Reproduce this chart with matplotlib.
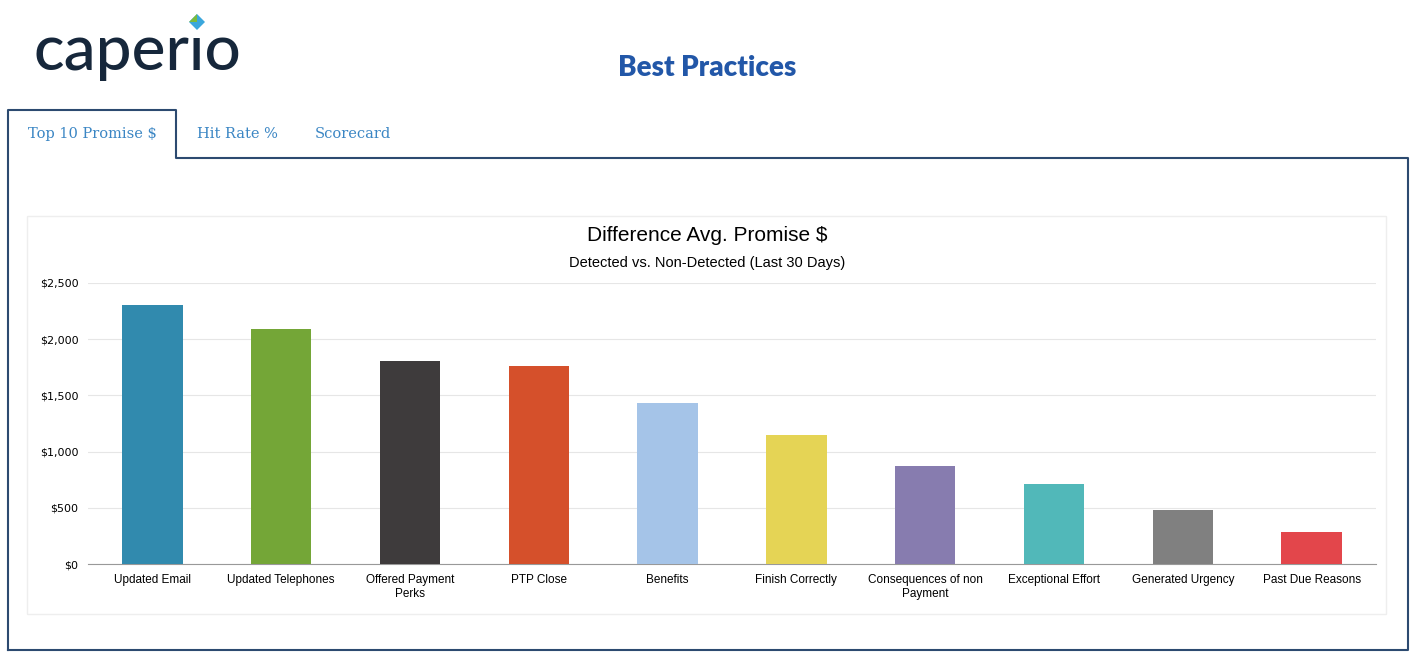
import matplotlib.pyplot as plt
from matplotlib.lines import Line2D
from matplotlib.patches import Rectangle, Polygon, Circle

categories = ["Updated Email", "Updated Telephones", "Offered Payment\nPerks", "PTP Close",
              "Benefits", "Finish Correctly", "Consequences of non\nPayment",
              "Exceptional Effort", "Generated Urgency", "Past Due Reasons"]
values = [2305, 2090, 1805, 1762, 1432, 1148, 872, 712, 480, 285]
colors = ["#318aae", "#74a637", "#3e3b3c", "#d5502b", "#a5c4e8", "#e5d455",
          "#877caf", "#51b8b9", "#808080", "#e3464b"]
yticks = [0, 500, 1000, 1500, 2000, 2500]
tabs = ["Top 10 Promise $", "Hit Rate %", "Scorecard"]

plt.rcParams['font.family'] = ['Liberation Sans', 'DejaVu Sans']

W, H = 1416, 667
fig = plt.figure(figsize=(W / 100, H / 100), dpi=100)

def px(x, y):
    return x / W, 1 - y / H

def line(xs, ys, color, lw):
    fig.add_artist(Line2D([x / W for x in xs], [1 - y / H for y in ys],
                          color=color, lw=lw, transform=fig.transFigure))

# outer tab frame
navy = "#2c4a70"
line([8, 8, 176, 176, 1408, 1408, 8], [650, 110, 110, 158, 158, 650, 650], navy, 1.5)
# chart panel
fig.add_artist(Rectangle(px(27, 614), 1359 / W, 398 / H, transform=fig.transFigure,
                         fill=False, ec="#eeeeee", lw=1))

# logo (dot of the i replaced by the diamond)
fig.text(*px(33, 52), "caperio", fontsize=46, color="#16273b", family="Lato",
         fontweight="medium", va="center", ha="left")
fig.add_artist(Rectangle(px(187, 36), 20 / W, 20 / H, transform=fig.transFigure,
                         fc="white", ec="none", zorder=5))
cx, cy = 197, 22
fig.add_artist(Polygon([px(cx, cy - 8), px(cx + 8, cy), px(cx, cy + 8), px(cx - 8, cy)],
                       closed=True, transform=fig.transFigure, fc="#3ba7dc", ec="none",
                       zorder=6))
fig.add_artist(Polygon([px(cx, cy - 8), px(cx - 8, cy), px(cx, cy)],
                       closed=True, transform=fig.transFigure, fc="#7cbb3d", ec="none",
                       zorder=6))

fig.text(*px(707, 68), "Best Practices", fontsize=20, color="#2257a8",
         fontweight="heavy", ha="center", va="center", family="Lato")
for t, x in zip(tabs, [92, 237, 353]):
    fig.text(*px(x, 134), t, fontsize=10.5, color="#3b86c4", family="DejaVu Serif",
             ha="center", va="center")

fig.text(*px(707, 236), "Difference Avg. Promise $", fontsize=15, ha="center", va="center")
fig.text(*px(707, 263), "Detected vs. Non-Detected (Last 30 Days)", fontsize=10.5,
         ha="center", va="center")

ax = fig.add_axes([88 / W, (H - 564) / H, 1288 / W, 281 / H])
ax.bar(range(len(values)), values, width=0.47, color=colors, zorder=3)
ax.set_xlim(-0.5, len(values) - 0.5)
ax.set_ylim(0, 2500)
ax.set_yticks(yticks)
ax.set_yticklabels([f"${v:,}" for v in yticks], fontsize=8, family="DejaVu Sans")
ax.set_xticks(range(len(values)))
ax.set_xticklabels(categories, fontsize=8.5, linespacing=1.3)
ax.tick_params(length=0, pad=7)
ax.grid(axis="y", color="#e6e6e6", lw=0.8, zorder=0)
for s in ["top", "right", "left"]:
    ax.spines[s].set_visible(False)
ax.spines["bottom"].set_color("#999999")

fig.savefig("out.png", dpi=100)
